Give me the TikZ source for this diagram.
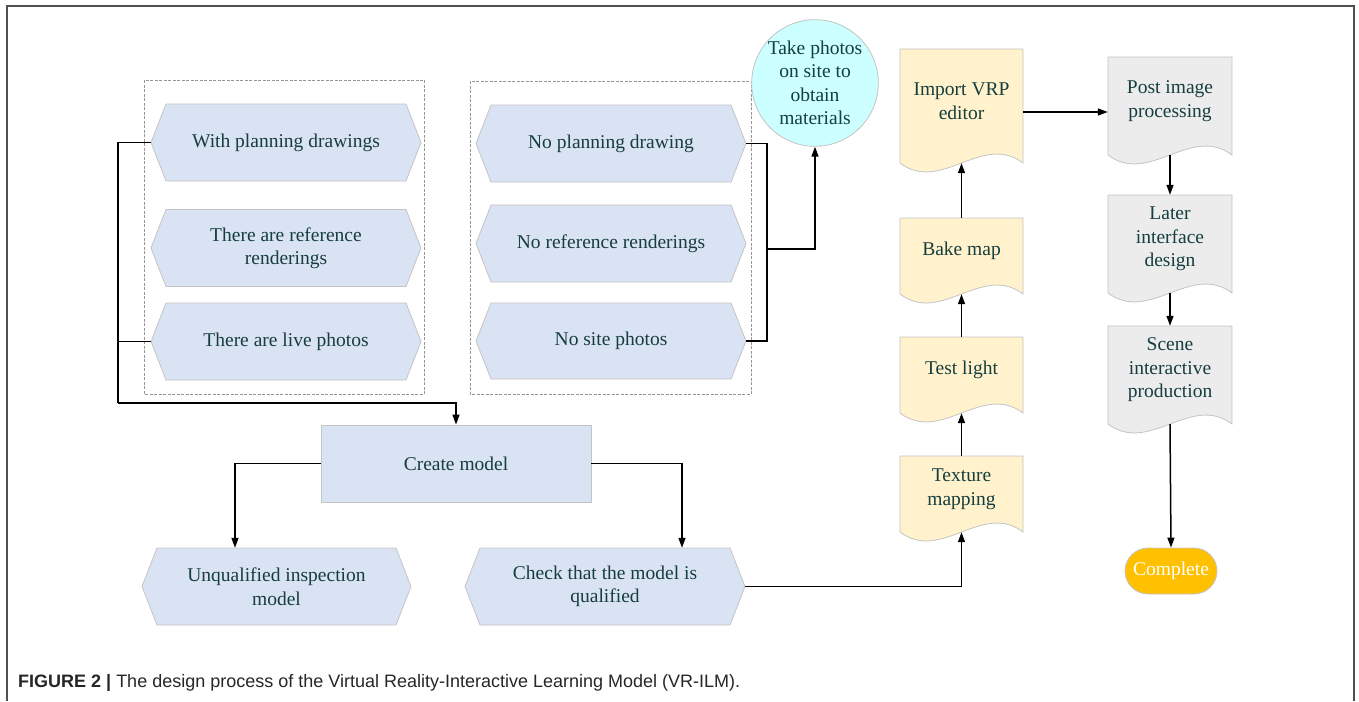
\documentclass[tikz,border=0pt]{standalone}
\usepackage{fontspec}
\usepackage{graphicx}
\setmainfont{Liberation Serif}
\newfontfamily\capfont{Liberation Sans}
\usetikzlibrary{arrows.meta}

\definecolor{txt}{RGB}{22,62,62}
\definecolor{edge}{RGB}{196,196,196}
\definecolor{hexblue}{RGB}{218,227,243}
\definecolor{docyellow}{RGB}{255,242,204}
\definecolor{docgray}{RGB}{236,236,236}
\definecolor{cyanfill}{RGB}{204,255,255}
\definecolor{donefill}{RGB}{255,192,0}
\definecolor{framegray}{RGB}{80,80,80}
\definecolor{dashgray}{RGB}{150,150,150}

% elongated hexagon: name, centre x, centre y, half width, half height, text
\newcommand\hexbox[6]{%
  \filldraw[shapeedge, fill=hexblue]
    ({#2-#4},#3) -- ({#2-#4+15},{#3-#5}) -- ({#2+#4-15},{#3-#5}) --
    ({#2+#4},#3) -- ({#2+#4-15},{#3+#5}) -- ({#2-#4+15},{#3+#5}) -- cycle;
  \node[inner sep=0pt, minimum width={2*#4}, minimum height={2*#5}] (#1) at (#2,#3) {#6};
}
% document shape with wavy bottom: name, x1, y1, x2, y2 (side end), fill, text
\newcommand\docbox[7]{%
  \filldraw[shapeedge, fill=#6]
    (#2,#3) -- (#4,#3) -- (#4,#5)
    .. controls ({#2+(#4-#2)*2/3},{#5-31}) and ({#2+(#4-#2)/3},{#5+31}) .. (#2,#5) -- cycle;
  \node[inner sep=0pt, minimum width={#4-#2}, minimum height={#5-#3-10}]
    (#1) at ({(#2+#4)/2},{(#3+#5-10)/2}) {#7};
}

\begin{document}
\begin{tikzpicture}[x=1pt, y=-1pt,
  every node/.style={text=txt, font=\fontsize{19.5}{23.5}\selectfont, align=center},
  shapeedge/.style={draw=edge, line width=0.8pt},
  conn/.style={draw=black, line width=1.5pt},
  arr/.style={conn, -{Triangle[length=10pt,width=7pt]}},
  dashbox/.style={draw=dashgray, line width=0.8pt, dash pattern=on 3pt off 1.5pt},
  ]
\useasboundingbox (0,0) rectangle (1359,701);

% outer frame
\draw[framegray, line width=1.6pt] (7,701) -- (7,6) -- (1354,6) -- (1354,701);

% grouping frames
\draw[dashbox] (144,80) rectangle (424,394);
\draw[dashbox] (470,81) rectangle (751,394);

% available material
\hexbox{hwith}{286}{142.5}{135}{38.5}{With planning drawings}
\hexbox{href}{286}{248}{135}{38.5}{There are reference\\renderings}
\hexbox{hlive}{286}{341.5}{135}{38.5}{There are live photos}

% missing material
\hexbox{hnoplan}{611}{143.5}{135}{38.5}{No planning drawing}
\hexbox{hnoref}{611}{243.5}{135}{38.5}{No reference renderings}
\hexbox{hnosite}{611}{341}{135}{38}{No site photos}

% on-site photography
\node[circle, fill=cyanfill, draw=edge, line width=0.8pt, minimum size=124pt, inner sep=0pt]
  (photo) at (815,83) {Take photos\\on site to\\obtain\\materials};

% modelling
\node[rectangle, fill=hexblue, draw=edge, line width=0.8pt, minimum width=270pt,
  minimum height=77pt, inner sep=0pt] (create) at (456,463.5) {Create model};
\hexbox{hunq}{276.5}{586.5}{134.5}{38.5}{Unqualified inspection\\model}
\hexbox{hcheck}{605}{586.5}{140}{38.5}{Check that the model is\\qualified}

% rendering chain
\docbox{imp}{900}{49}{1023}{163}{docyellow}{Import VRP\\editor}
\docbox{bake}{900}{218}{1023}{294}{docyellow}{Bake map}
\docbox{test}{900}{337}{1023}{413}{docyellow}{Test light}
\docbox{tex}{900}{456}{1023}{532}{docyellow}{Texture\\mapping}

% post production chain
\docbox{post}{1108}{57}{1232}{155}{docgray}{Post image\\processing}
\docbox{later}{1108}{195}{1232}{293}{docgray}{Later\\interface\\design}
\docbox{scene}{1108}{326}{1232}{424}{docgray}{Scene\\interactive\\production}
\node[fill=donefill, draw=edge, line width=0.8pt, rounded corners=23pt, minimum width=92pt,
  minimum height=46pt, inner sep=0pt, text=white] (done) at (1171,571) {Complete};

% connectors: existing material to modelling
\coordinate (lbus) at (118,403);
\draw[conn] (hwith.west) -| (lbus);
\draw[conn] (hlive.west) -- (hlive.west -| lbus);
\draw[arr] (lbus) -| (create.north);

% connectors: missing material to photography
\coordinate (rjoin) at (767,249);
\draw[conn] (hnoplan.east) -- (hnoplan.east -| rjoin) -- (hnosite.east -| rjoin) -- (hnosite.east);
\draw[arr] (rjoin) -| (photo.south);

% modelling outcomes
\draw[arr] (create.west) -| ([xshift=-41.5pt]hunq.north);
\draw[arr] (create.east) -| ([xshift=77pt]hcheck.north);
\draw[arr] (hcheck.east) -| ([yshift=-10pt]tex.south);

% rendering chain upwards
\draw[arr] (tex.north) -- ([yshift=-10pt]test.south);
\draw[arr] (test.north) -- ([yshift=-10pt]bake.south);
\draw[arr] (bake.north) -- ([yshift=-10pt]imp.south);
\draw[arr] ([yshift=-11pt]imp.east) -- ([yshift=-11pt]post.west);

% post production downwards
\draw[arr] ([yshift=-10pt]post.south) -- (later.north);
\draw[arr] ([yshift=-10pt]later.south) -- (scene.north);
\draw[arr] ([yshift=-10pt]scene.south) -- (done.north);

% caption
\node[anchor=base west, inner sep=0pt, text=black!85, align=left,
  font=\capfont\fontsize{18}{21}\selectfont] (cap) at (18,687)
  {\textbf{FIGURE 2 |} The design process of the Virtual Reality-Interactive Learning Model (VR-ILM).};
\end{tikzpicture}
\end{document}
